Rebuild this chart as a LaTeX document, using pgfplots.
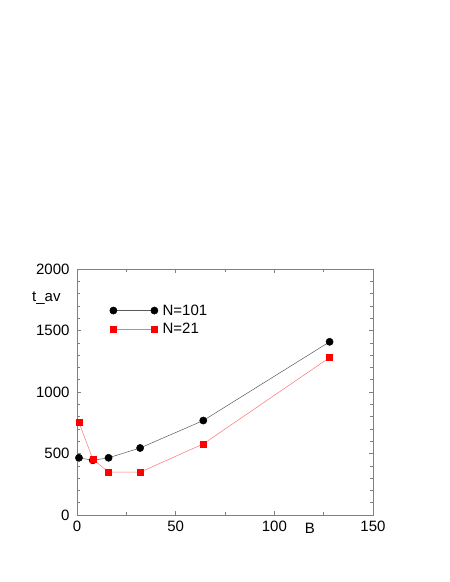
\documentclass[border=0pt]{standalone}
\usepackage{pgfplots}
\pgfplotsset{compat=1.18}
\usepackage{fontspec}
\setmainfont{Liberation Sans}
\begin{document}
\begin{tikzpicture}
\path (0,0) rectangle (450pt,582pt);
\begin{axis}[
  at={(77pt,67pt)}, anchor=south west,
  scale only axis, width=296pt, height=246pt,
  xmin=0, xmax=150, ymin=0, ymax=2000,
  xtick={0,50,100,150}, ytick={0,500,1000,1500,2000},
  minor x tick num=1, minor y tick num=4,
  tick align=inside, major tick length=4pt, minor tick length=3pt,
  axis line style={gray}, every tick/.style={gray},
  tick label style={font=\fontsize{15}{17}\selectfont, black},
  /pgf/number format/assume math mode=true,
  /pgf/number format/set thousands separator={},
  xticklabel style={yshift=-2pt}, yticklabel style={xshift=-4pt},
  clip=false,
  legend style={at={(axis cs:15,1745)}, anchor=north west, draw=none, fill=none,
    font=\fontsize{15}{17}\selectfont, row sep=2.5pt},
  legend cell align=left,
  legend image code/.code={\draw[mark repeat=1,mark phase=1] plot coordinates {(0pt,0pt) (41pt,0pt)}; \path (47pt,0pt);},
]
\addplot[gray!70!black, line width=0.5pt, mark=*, mark size=3.6pt, mark options={fill=black, draw=black}]
  coordinates {(1,465) (8,445) (16,465) (32,545) (64,768) (128,1408)};
\addlegendentry{N=101}
\addplot[red!55, line width=0.5pt, mark=square*, mark size=3pt, mark options={fill=red, draw=red}]
  coordinates {(1,752) (8,455) (16,348) (32,348) (64,578) (128,1280)};
\addlegendentry{N=21}
\node[anchor=west, font=\fontsize{15}{17}\selectfont] at (axis cs:-24.5,1764) {t\_av};
\node[font=\fontsize{15}{17}\selectfont] at (axis cs:118,-106) {B};
\end{axis}
\end{tikzpicture}
\end{document}
